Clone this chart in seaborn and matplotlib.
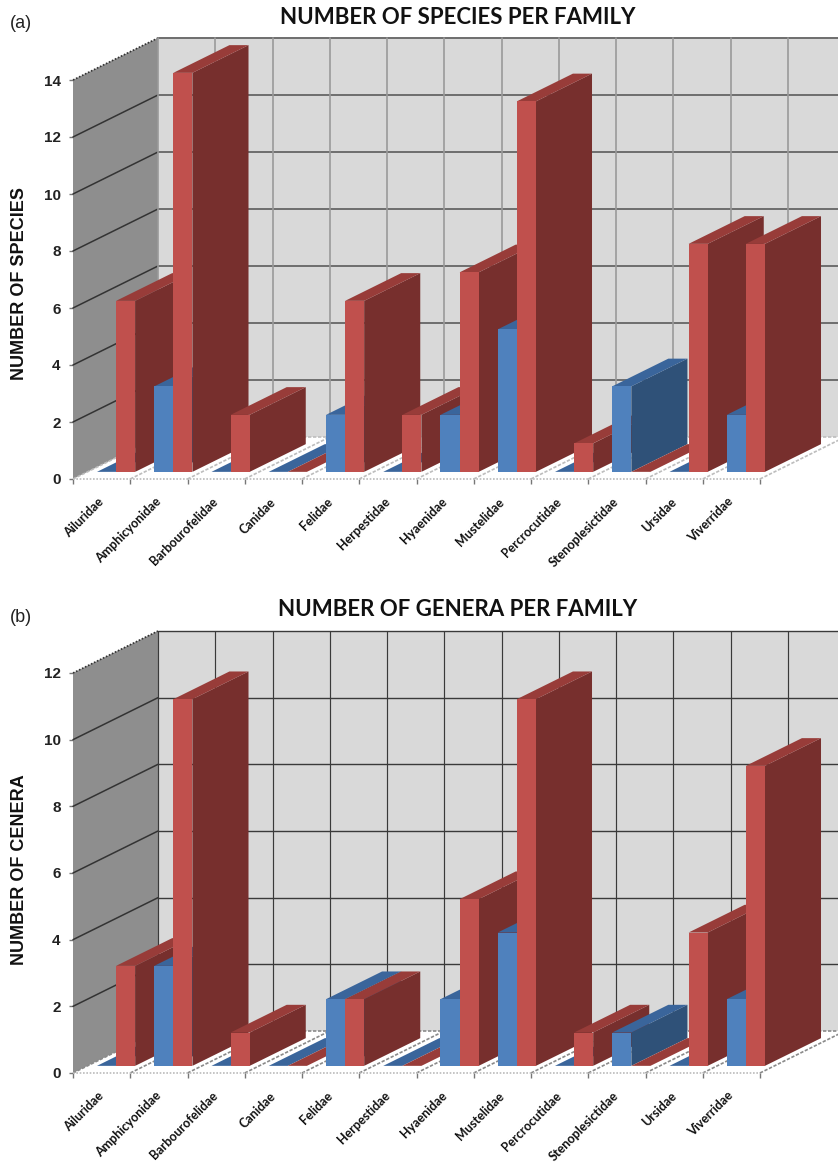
from matplotlib import pyplot as plt
from matplotlib.patches import Polygon
import seaborn as sns
import pandas as pd

families = ["Ailuridae", "Amphicyonidae", "Barbourofelidae", "Canidae", "Felidae", "Herpestidae",
            "Hyaenidae", "Mustelidae", "Percrocutidae", "Stenoplesictidae", "Ursidae", "Viverridae"]

species_blue = [0, 3, 0, 0, 2, 0, 2, 5, 0, 3, 0, 2]
species_red = [6, 14, 2, 0, 6, 2, 7, 13, 1, 0, 8, 8]
genera_blue = [0, 3, 0, 0, 2, 0, 2, 4, 0, 1, 0, 2]
genera_red = [3, 11, 1, 0, 2, 0, 5, 11, 1, 0, 4, 9]

W, H = 838, 1164
BLUE = ("#4F81BD", "#2F5178", "#3A659B")  # front, side, top
RED = ("#C0504D", "#772F2D", "#983C39")

sns.set_style("white")
plt.rcParams['font.family'] = ['Liberation Sans', 'DejaVu Sans']

fig = plt.figure(figsize=(W/100, H/100), dpi=100)


def panel(y0, ytop, ymax, blue, red, title, title_y, ylab, ylab_y, tag, tag_y, gridcol, vcol, floorcol, gridlw):
    ax = fig.add_axes([73/W, 1-y0/H, 687/W, (y0-ytop)/H])
    ax.patch.set_visible(False)

    df = pd.DataFrame({"family": families*2, "n": blue+red, "kind": ["b"]*12+["r"]*12})
    sns.barplot(data=df, x="family", y="n", hue="kind", hue_order=["b", "r"],
                palette={"b": BLUE[0], "r": RED[0]}, saturation=1, width=2/3, gap=0,
                legend=False, ax=ax, linewidth=0)
    ax.set_xlim(-0.5, 11.5)
    ax.set_ylim(0, ymax)

    # depth of the box, in data units
    dx = 85/(687/12)
    dy = 42/((y0-ytop)/ymax)
    f0, f1 = 0.17, 0.83

    # walls
    ax.add_patch(Polygon([(-0.5+dx, 0+dy), (11.5+dx, dy), (11.5+dx, ymax+dy), (-0.5+dx, ymax+dy)],
                         fc="#D9D9D9", ec="none", clip_on=False, zorder=0))
    ax.add_patch(Polygon([(-0.5, 0), (-0.5+dx, dy), (-0.5+dx, ymax+dy), (-0.5, ymax)],
                         fc="#8E8E8E", ec="none", clip_on=False, zorder=0))
    for v in range(0, ymax+1, 2):
        if v > 0:
            ax.plot([-0.5+dx, 11.5+dx], [v+dy, v+dy], color=gridcol, lw=gridlw, clip_on=False, zorder=1)
        if 0 < v < ymax:
            ax.plot([-0.5, -0.5+dx], [v, v+dy], color="#333333", lw=1.1, clip_on=False, zorder=1)
    ax.plot([-0.5, -0.5+dx], [ymax, ymax+dy], color="#333333", lw=1.2, ls=(0, (1, 1)), clip_on=False, zorder=1)
    for k in range(13):
        x = k-0.5
        ax.plot([x+dx, x+dx], [dy, ymax+dy], color=vcol, lw=gridlw*0.85, clip_on=False, zorder=1)
        ax.plot([x, x+dx], [0, dy], color=floorcol, lw=1.2, ls=(0, (2, 1)), clip_on=False, zorder=2)
    ax.plot([-0.5, 11.5], [0, 0], color="#BBBBBB", lw=1.2, ls=(0, (1, 1)), clip_on=False, zorder=2)
    ax.plot([-0.5+dx, 11.5+dx], [dy, dy], color=floorcol, lw=1.2, ls=(0, (2, 1)), clip_on=False, zorder=2)

    # bars get pushed back into the box and given a side and a top
    for k, p in enumerate(ax.patches[:24]):
        cols = BLUE if k < 12 else RED
        x, w, h = p.get_x(), p.get_width(), p.get_height()
        x0 = x+f0*dx
        x1 = x0+w
        yb = f0*dy
        z = 10+2*(k % 12)+(k >= 12)
        ox, oy = (f1-f0)*dx, (f1-f0)*dy
        p.set_x(x0)
        p.set_y(yb)
        p.set_clip_on(False)
        p.set_zorder(z+0.5)
        ax.add_patch(Polygon([(x1, yb), (x1+ox, yb+oy), (x1+ox, yb+oy+h), (x1, yb+h)],
                             fc=cols[1], ec="none", clip_on=False, zorder=z))
        ax.add_patch(Polygon([(x0, yb+h), (x1, yb+h), (x1+ox, yb+oy+h), (x0+ox, yb+oy+h)],
                             fc=cols[2], ec="none", clip_on=False, zorder=z))

    sns.despine(ax=ax, left=True, bottom=True)
    ax.set_yticks(range(0, ymax+1, 2))
    ax.set_xticks(range(12), families, rotation=45, ha="right", va="center", rotation_mode="anchor")
    ax.set_xticks([k-0.5 for k in range(13)], minor=True)
    ax.tick_params(axis="x", which="major", length=0, pad=15)
    ax.tick_params(axis="x", which="minor", length=3.5, width=1, color="#777777", bottom=True)
    ax.tick_params(axis="y", length=3, width=1, color="#777777", pad=6, left=True, labelsize=11)
    for t in ax.get_yticklabels():
        t.set_fontweight("bold")
        t.set_color("#222222")
    for t in ax.get_xticklabels():
        t.set_family(["Lato", "DejaVu Sans"])
        t.set_fontweight("bold")
        t.set_fontsize(9)
        t.set_color("#111111")
    ax.set_xlabel("")
    ax.set_ylabel(ylab, fontsize=13, fontweight="bold", color="#111111")
    ax.yaxis.set_label_coords(-0.0655, ylab_y)

    fig.text(458/W, 1-title_y/H, title, ha="center", va="center", fontsize=16, fontweight="bold",
             family=["Lato", "DejaVu Sans"], color="#111111")
    fig.text(10/W, 1-tag_y/H, tag, ha="left", va="center", fontsize=13, color="#222222")


panel(479, 80, 14, species_blue, species_red, "NUMBER OF SPECIES PER FAMILY", 18,
      "NUMBER OF SPECIES", 0.49, "(a)", 24, "#6E6E6E", "#9A9A9A", "#BDBDBD", 1.4)
panel(1073, 673, 12, genera_blue, genera_red, "NUMBER OF GENERA PER FAMILY", 610,
      "NUMBER OF CENERA", 0.5075, "(b)", 618, "#3A3A3A", "#3A3A3A", "#8A8A8A", 1.0)

plt.savefig("out.png", dpi=100)
